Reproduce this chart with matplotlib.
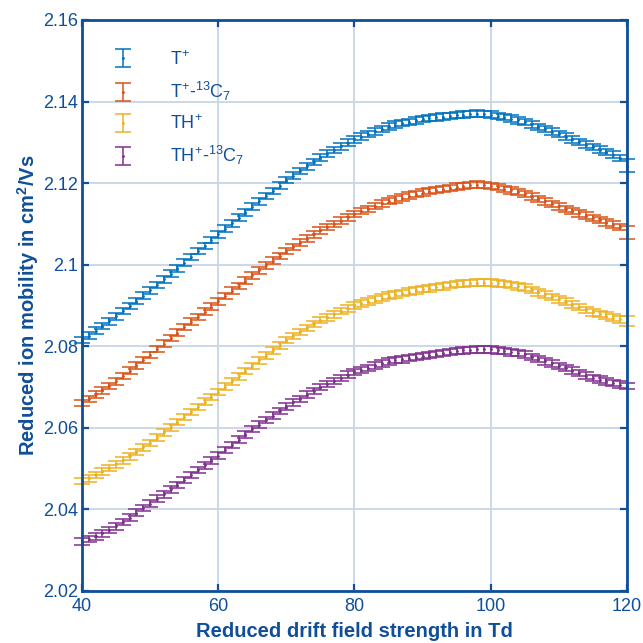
import matplotlib
matplotlib.use('Agg')
import matplotlib.pyplot as plt
import numpy as np

# reduced field strength in Td
td = list(range(40, 121))

t_plus = [2.0815, 2.0826, 2.0838, 2.0850, 2.0861, 2.0873,
          2.0886, 2.0899, 2.0911, 2.0924, 2.0937,
          2.0950, 2.0964, 2.0978, 2.0991, 2.1005,
          2.1019, 2.1033, 2.1046, 2.1060, 2.1074,
          2.1088, 2.1101, 2.1115, 2.1128, 2.1142,
          2.1155, 2.1168, 2.1181, 2.1194, 2.1207,
          2.1218, 2.1230, 2.1241, 2.1252, 2.1263,
          2.1272, 2.1281, 2.1290, 2.1299, 2.1307,
          2.1314, 2.1320, 2.1327, 2.1333, 2.1339,
          2.1343, 2.1347, 2.1350, 2.1354, 2.1357,
          2.1359, 2.1361, 2.1363, 2.1365, 2.1367,
          2.1368, 2.1369, 2.1370, 2.1369, 2.1368,
          2.1365, 2.1362, 2.1358, 2.1354, 2.1350,
          2.1344, 2.1338, 2.1332, 2.1326, 2.1320,
          2.1314, 2.1307, 2.1301, 2.1294, 2.1288,
          2.1282, 2.1276, 2.1270, 2.1262, 2.1243]

t_plus_13c = [2.0661, 2.0671, 2.0682, 2.0692, 2.0703, 2.0714,
              2.0727, 2.0740, 2.0753, 2.0766, 2.0779,
              2.0793, 2.0806, 2.0820, 2.0833, 2.0847,
              2.0860, 2.0872, 2.0885, 2.0897, 2.0910,
              2.0923, 2.0936, 2.0948, 2.0961, 2.0974,
              2.0986, 2.0998, 2.1010, 2.1021, 2.1033,
              2.1043, 2.1054, 2.1064, 2.1074, 2.1084,
              2.1092, 2.1100, 2.1108, 2.1116, 2.1124,
              2.1131, 2.1137, 2.1144, 2.1150, 2.1156,
              2.1160, 2.1164, 2.1169, 2.1173, 2.1177,
              2.1180, 2.1183, 2.1186, 2.1188, 2.1191,
              2.1193, 2.1195, 2.1196, 2.1195, 2.1193,
              2.1190, 2.1186, 2.1182, 2.1178, 2.1173,
              2.1167, 2.1161, 2.1155, 2.1149, 2.1143,
              2.1137, 2.1131, 2.1126, 2.1120, 2.1114,
              2.1109, 2.1103, 2.1098, 2.1092, 2.1078]

th_plus = [2.0469, 2.0476, 2.0484, 2.0493, 2.0501, 2.0510,
           2.0520, 2.0530, 2.0541, 2.0552, 2.0563,
           2.0576, 2.0589, 2.0601, 2.0614, 2.0627,
           2.0639, 2.0651, 2.0664, 2.0676, 2.0688,
           2.0701, 2.0714, 2.0726, 2.0739, 2.0752,
           2.0765, 2.0777, 2.0790, 2.0802, 2.0815,
           2.0825, 2.0835, 2.0845, 2.0854, 2.0864,
           2.0871, 2.0878, 2.0886, 2.0893, 2.0900,
           2.0905, 2.0910, 2.0914, 2.0919, 2.0924,
           2.0927, 2.0930, 2.0934, 2.0937, 2.0940,
           2.0942, 2.0945, 2.0947, 2.0950, 2.0952,
           2.0954, 2.0955, 2.0956, 2.0956, 2.0956,
           2.0954, 2.0952, 2.0950, 2.0947, 2.0944,
           2.0938, 2.0932, 2.0927, 2.0921, 2.0915,
           2.0909, 2.0902, 2.0896, 2.0889, 2.0883,
           2.0879, 2.0875, 2.0870, 2.0866, 2.0862]

th_plus_13c = [2.0321, 2.0327, 2.0334, 2.0341, 2.0349, 2.0358,
               2.0369, 2.0380, 2.0392, 2.0403, 2.0414,
               2.0426, 2.0437, 2.0449, 2.0460, 2.0472,
               2.0484, 2.0496, 2.0508, 2.0520, 2.0532,
               2.0545, 2.0558, 2.0571, 2.0584, 2.0597,
               2.0608, 2.0619, 2.0630, 2.0641, 2.0652,
               2.0662, 2.0671, 2.0681, 2.0690, 2.0700,
               2.0707, 2.0715, 2.0722, 2.0730, 2.0737,
               2.0742, 2.0747, 2.0753, 2.0758, 2.0763,
               2.0766, 2.0768, 2.0771, 2.0773, 2.0776,
               2.0778, 2.0781, 2.0783, 2.0786, 2.0788,
               2.0790, 2.0791, 2.0792, 2.0792, 2.0792,
               2.0790, 2.0788, 2.0785, 2.0783, 2.0780,
               2.0774, 2.0769, 2.0763, 2.0758, 2.0752,
               2.0746, 2.0740, 2.0734, 2.0728, 2.0722,
               2.0718, 2.0714, 2.0710, 2.0706, 2.0702]

err_common = 0.0008
err_last = [0.0015, 0.0016, 0.0012, 0.0008]

labels = [r'T$^{+}$', r'T$^{+}$-$^{13}$C$_{7}$', r'TH$^{+}$', r'TH$^{+}$-$^{13}$C$_{7}$']
colors = ['#0072BD', '#D95319', '#EDB120', '#7E2F8E']
series = [t_plus, t_plus_13c, th_plus, th_plus_13c]

yticks = [2.02, 2.04, 2.06, 2.08, 2.1, 2.12, 2.14, 2.16]
ytick_labels = ['2.02', '2.04', '2.06', '2.08', '2.1', '2.12', '2.14', '2.16']
xticks = [40, 60, 80, 100, 120]

axcol = '#0f4f99'
plt.rcParams['font.family'] = ['Liberation Sans', 'DejaVu Sans']
plt.rcParams['mathtext.default'] = 'regular'

fig = plt.figure(figsize=(6.43, 6.43), dpi=100)
ax = fig.add_axes([0.1275, 0.081, 0.8475, 0.888])

for vals, lab, c, el in zip(series, labels, colors, err_last):
    errs = [err_common] * (len(vals) - 1) + [el]
    ax.errorbar(td, vals, yerr=errs, color=c, ecolor=c, linestyle='none',
                marker='.', markersize=2, elinewidth=1.1, capsize=6,
                capthick=1.1, label=lab, clip_on=False)

ax.set_xlim(40, 120)
ax.set_ylim(2.02, 2.16)
ax.set_xticks(xticks)
ax.set_yticks(yticks)
ax.set_yticklabels(ytick_labels)
ax.grid(True, color='#c9d6e6', linewidth=1.3)
ax.set_axisbelow(True)
ax.tick_params(direction='in', length=5, width=1.6, colors=axcol,
               labelsize=13, top=True, right=True, pad=3)
ax.tick_params(axis='x', pad=5)
for s in ax.spines.values():
    s.set_color(axcol)
    s.set_linewidth(2)

ax.set_xlabel('Reduced drift field strength in Td', fontsize=14.5,
              fontweight='bold', color=axcol, labelpad=5)
ax.set_ylabel('Reduced ion mobility in cm$^{2}$/Vs', fontsize=14.5,
              fontweight='bold', color=axcol, labelpad=1)

leg = ax.legend(loc='upper left', frameon=False, fontsize=13,
                labelspacing=0.62, handlelength=1.6, handletextpad=1.8,
                borderaxespad=0.0, bbox_to_anchor=(0.035, 0.96))
for t in leg.get_texts():
    t.set_color(axcol)

fig.savefig('out.png', dpi=100)
